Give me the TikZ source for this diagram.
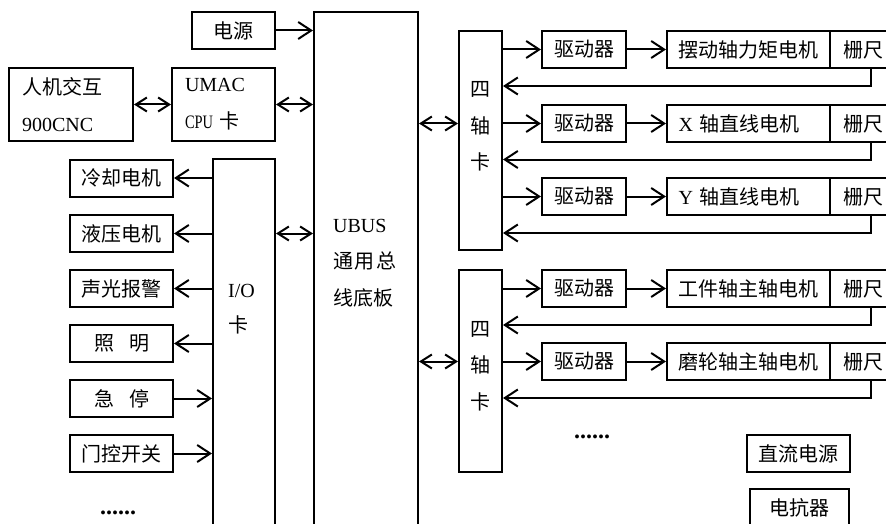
\documentclass[tikz,border=0pt]{standalone}
\usepackage{fontspec}
\usepackage{graphicx}
\setmainfont{Liberation Serif}
\newfontfamily\cjk{Noto Sans CJK SC}
\usetikzlibrary{arrows.meta}
\begin{document}
\begin{tikzpicture}[x=1pt,y=-1pt,
  bx/.style={draw, line width=2pt, inner sep=0pt, minimum height=37pt, font=\fontsize{20}{24}\selectfont},
  tall/.style={draw, line width=2pt, inner sep=0pt},
  txt/.style={inner sep=0pt},
  arr/.style={line width=2pt, -{Straight Barb[length=13pt,width=17pt]}},
  dbl/.style={line width=2pt, {Straight Barb[length=11pt,width=14pt]}-{Straight Barb[length=11pt,width=14pt]}}
]
\useasboundingbox (0,0) rectangle (886,524);
\clip (0,0) rectangle (886,524);
% left part
\node[bx, minimum width=83pt] (power) at (233.5,30.5) {\cjk 电源};
\node[bx, minimum width=124pt, minimum height=73pt, text width=98pt, align=left, font=\fontsize{20}{37}\selectfont] (hmi) at (71,104.5) {{\cjk 人机交互}\\900CNC};
\node[bx, minimum width=103pt, minimum height=73pt, text width=77pt, align=left, font=\fontsize{20}{37}\selectfont] (umac) at (223.5,104.5) {UMAC\\\scalebox{0.72}[0.95]{CPU} {\cjk 卡}};
\node[tall, minimum width=104pt, minimum height=588pt] (ubus) at (366,306) {};
\node[txt, anchor=west, align=left, font=\fontsize{20}{36.5}\selectfont] (ubust) at (333,263) {UBUS\\{\cjk 通\kern1.5pt 用\kern1.5pt 总}\\{\cjk 线底板}};
\node[tall, minimum width=62pt, minimum height=441pt] (io) at (244,379.5) {};
\node[txt, anchor=west, align=left, font=\fontsize{20}{35}\selectfont] (iot) at (228,309.5) {I/O\\{\cjk 卡}};
\node[bx, minimum width=103pt] (l1) at (121.5,178) {\cjk 冷却电机};
\node[bx, minimum width=103pt] (l2) at (121.5,233.5) {\cjk 液压电机};
\node[bx, minimum width=103pt] (l3) at (121.5,288.5) {\cjk 声光报警};
\node[bx, minimum width=103pt] (l4) at (121.5,343.5) {\cjk 照\hspace{0.75em}明};
\node[bx, minimum width=103pt] (l5) at (121.5,398.5) {\cjk 急\hspace{0.75em}停};
\node[bx, minimum width=103pt] (l6) at (121.5,453.5) {\cjk 门控开关};
\node[txt, anchor=base, font=\fontsize{24}{24}\selectfont\bfseries] (dots1) at (118,514) {......};
% cards
\node[tall, minimum width=43pt, minimum height=219pt] (card1) at (480.5,140.5) {};
\node[txt, align=center, font=\fontsize{20}{36.5}\selectfont] (c1t) at (480.5,126.5) {{\cjk 四}\\{\cjk 轴}\\{\cjk 卡}};
\node[tall, minimum width=43pt, minimum height=202pt] (card2) at (480.5,371) {};
\node[txt, align=center, font=\fontsize{20}{36.5}\selectfont] (c2t) at (480.5,366) {{\cjk 四}\\{\cjk 轴}\\{\cjk 卡}};
% drivers
\node[bx, minimum width=84pt] (d1) at (584,49.5) {\cjk 驱动器};
\node[bx, minimum width=84pt] (d2) at (584,123.5) {\cjk 驱动器};
\node[bx, minimum width=84pt] (d3) at (584,196.5) {\cjk 驱动器};
\node[bx, minimum width=84pt] (d4) at (584,288.5) {\cjk 驱动器};
\node[bx, minimum width=84pt] (d5) at (584,361.5) {\cjk 驱动器};
% motors
\node[bx, minimum width=163pt, text width=140pt, align=left] (m1) at (748.5,49.5) {\cjk 摆动轴力矩电机};
\node[bx, minimum width=163pt, text width=140pt, align=left] (m2) at (748.5,123.5) {X {\cjk 轴直线电机}};
\node[bx, minimum width=163pt, text width=140pt, align=left] (m3) at (748.5,196.5) {Y {\cjk 轴直线电机}};
\node[bx, minimum width=163pt, text width=140pt, align=left] (m4) at (748.5,288.5) {\cjk 工件轴主轴电机};
\node[bx, minimum width=163pt, text width=140pt, align=left] (m5) at (748.5,361.5) {\cjk 磨轮轴主轴电机};
% gratings
\node[bx, minimum width=67pt] (g1) at (863.5,49.5) {\cjk 栅尺};
\node[bx, minimum width=67pt] (g2) at (863.5,123.5) {\cjk 栅尺};
\node[bx, minimum width=67pt] (g3) at (863.5,196.5) {\cjk 栅尺};
\node[bx, minimum width=67pt] (g4) at (863.5,288.5) {\cjk 栅尺};
\node[bx, minimum width=67pt] (g5) at (863.5,361.5) {\cjk 栅尺};
\node[txt, anchor=base, font=\fontsize{24}{24}\selectfont\bfseries] (dots2) at (592,438) {......};
\node[bx, minimum width=103pt] (dc) at (798.5,453.5) {\cjk 直流电源};
\node[bx, minimum width=99pt] (reac) at (799.5,507.5) {\cjk 电抗器};
% feedback levels
\coordinate (f1) at (0,86);
\coordinate (f2) at (0,159.5);
\coordinate (f3) at (0,233);
\coordinate (f4) at (0,325);
\coordinate (f5) at (0,398);
% connectors
\draw[arr] (power.east) -- (power.east -| ubus.west);
\draw[dbl] (hmi.east) -- (umac.west);
\draw[dbl] (umac.east) -- (umac.east -| ubus.west);
\draw[dbl] (io.east |- l2.east) -- (ubus.west |- l2.east);
\draw[arr] (io.west |- l1.east) -- (l1.east);
\draw[arr] (io.west |- l2.east) -- (l2.east);
\draw[arr] (io.west |- l3.east) -- (l3.east);
\draw[arr] (io.west |- l4.east) -- (l4.east);
\draw[arr] (l5.east) -- (io.west |- l5.east);
\draw[arr] (l6.east) -- (io.west |- l6.east);
\draw[dbl] (ubus.east |- d2.west) -- (card1.west |- d2.west);
\draw[dbl] (ubus.east |- d5.west) -- (card2.west |- d5.west);
\draw[arr] (card1.east |- d1.west) -- (d1.west);
\draw[arr] (card1.east |- d2.west) -- (d2.west);
\draw[arr] (card1.east |- d3.west) -- (d3.west);
\draw[arr] (card2.east |- d4.west) -- (d4.west);
\draw[arr] (card2.east |- d5.west) -- (d5.west);
\draw[arr] (d1.east) -- (m1.west);
\draw[arr] (d2.east) -- (m2.west);
\draw[arr] (d3.east) -- (m3.west);
\draw[arr] (d4.east) -- (m4.west);
\draw[arr] (d5.east) -- (m5.west);
\draw[arr] ([xshift=7.5pt]g1.south) |- (card1.east |- f1);
\draw[arr] ([xshift=7.5pt]g2.south) |- (card1.east |- f2);
\draw[arr] ([xshift=7.5pt]g3.south) |- (card1.east |- f3);
\draw[arr] ([xshift=7.5pt]g4.south) |- (card2.east |- f4);
\draw[arr] ([xshift=7.5pt]g5.south) |- (card2.east |- f5);
\end{tikzpicture}
\end{document}
